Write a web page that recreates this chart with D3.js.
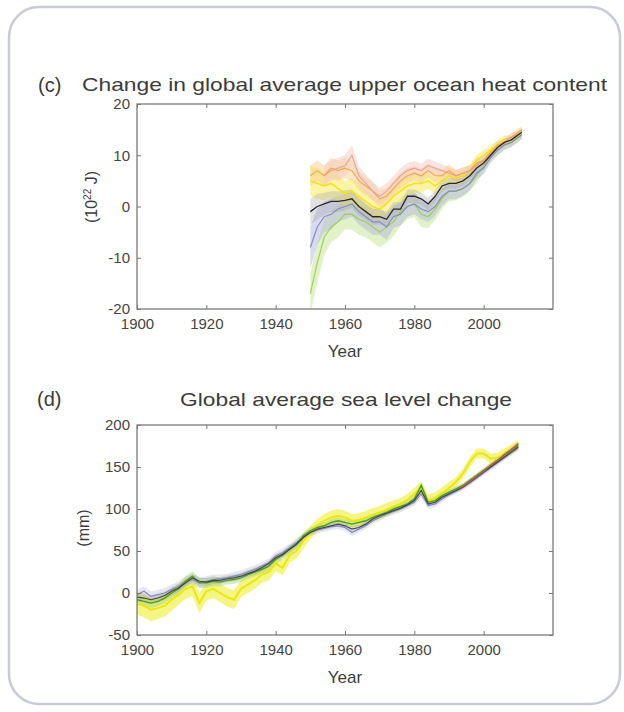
<!DOCTYPE html>
<html>
<head>
<meta charset="utf-8">
<script src="https://cdn.jsdelivr.net/npm/d3@7"></script>
<style>
body { margin: 0; background: #fff; }
text { font-family: "Liberation Sans", Arial, sans-serif; fill: #3c3c3c; }
</style>
</head>
<body>
<div id="cntr"></div>
<script>
// (c) upper ocean heat content, 10^22 J
const cYears = [1950,1952,1954,1956,1958,1960,1962,1964,1966,1968,1970,1972,1974,1976,1978,1980,1982,1984,1986,1988,1990,1992,1994,1996,1998,2000,2002,2004,2006,2008,2010,2011];
const cBlack = [-1,0,0.5,1,1,1.2,1.5,0,-1,-2,-2,-2.5,-0.5,-0.5,2,2,1.5,0.5,2,4,4.5,4.5,5,6,7.5,8.5,10,11.5,12.5,13,14,14.5];
const cBlackErr = [2.5,2.5,2.2,2,2,2,1.8,1.8,1.6,1.6,1.5,1.5,1.4,1.4,1.3,1.3,1.2,1.2,1.1,1.1,1,1,1,0.9,0.9,0.8,0.8,0.7,0.7,0.7,0.7,0.7];
const cBlue = [-8,-4,-2,-1.5,-0.5,0,0.5,-1,-2,-3,-3,-4,-2,-1.5,0,0.5,-0.5,-1,0,2,3,3,3.5,4.5,6.5,7.5,9.5,11,12,12.5,13.5,14];
const cBlueErr = [4,3.5,3,3,2.5,2.5,2.5,2.5,2.5,2.5,2.5,2.5,2.2,2.2,2,2,2,2,1.8,1.8,1.6,1.6,1.4,1.4,1.2,1.2,1,1,0.9,0.9,0.8,0.8];
const cGreen = [-17,-11,-6,-4,-3,-1.5,-1.5,-2.5,-3,-4,-5,-4,-3,-1,0,0.5,-1.5,-2,-0.5,1.5,3,3,3.5,4.5,6,8,10,11,12,12.5,13.5,14];
const cGreenErr = [4,4,3.5,3,3,3,3,3,3,3,3,3,2.8,2.8,2.5,2.5,2.5,2.2,2.2,2,2,1.8,1.6,1.5,1.4,1.2,1.1,1,1,0.9,0.9,0.9];
const cYellow = [5,4.5,4,4.5,3.5,2.5,3,2,1,0,-0.5,0.5,2,3,4,4.5,4.5,5,4,5,6,5.5,6,7,9,10,11,12,13,13,14,14.5];
const cYellowErr = [3,3,2.8,2.8,2.5,2.5,2.5,2.5,2.2,2.2,2,2,2,2,1.8,1.8,1.8,1.6,1.6,1.5,1.5,1.4,1.3,1.2,1.1,1,1,0.9,0.9,0.8,0.8,0.8];
const cOrange = [6,7,6,7.5,7,7.5,7,5,4,3,1.5,2,3.5,5,6,6.5,6,7,6,6,7,6,6.5,7,8.5,9,10.5,12,12.5,13.5,14.5,15];
const cOrangeErr = [2,2,2,2,2,2,2,1.8,1.8,1.8,1.6,1.6,1.5,1.5,1.5,1.4,1.4,1.3,1.3,1.2,1.2,1.1,1.1,1,1,0.9,0.9,0.8,0.8,0.8,0.7,0.7];
const cSalmon = [null,null,6,7,7.5,8,10,6,4.5,3,2,3,4.5,6,7,7.5,7,8,7.5,7,6.5,6,6.5,7,8,9,10,11.5,12.5,13.5,14,14.5];
const cSalmonErr = [null,null,2,2,2,2,2,1.8,1.8,1.8,1.6,1.6,1.5,1.5,1.5,1.4,1.4,1.3,1.3,1.2,1.2,1.1,1.1,1,1,0.9,0.9,0.8,0.8,0.8,0.7,0.7];

// (d) sea level, mm
const dYears = d3.range(1900, 2011, 2);
const dYellow = [-12,-15,-20,-18,-15,-8,-2,5,8,-12,2,5,0,-5,-8,5,10,15,22,25,35,30,45,50,62,72,80,86,90,92,90,86,87,90,93,96,99,103,106,111,118,126,110,113,119,125,132,142,156,166,166,160,161,166,171,176];
const dYellowErr = [14,14,14,13,13,13,12,12,12,12,11,11,11,11,11,10,10,10,10,10,9,9,9,9,9,8,8,8,8,8,8,8,8,8,8,8,8,7,7,7,7,7,7,7,7,7,6,6,6,6,6,6,6,6,6,6];
const dGreen = [-8,-10,-12,-10,-6,0,5,14,20,12,12,14,13,15,16,18,22,25,28,32,40,45,52,58,68,74,78,80,84,86,84,82,84,86,90,93,96,100,103,106,112,128,108,110,116,120,124,128,134,140,146,152,158,164,170,176];
const dGreenErr = [6,6,6,6,6,6,6,6,6,6,6,6,5,5,5,5,5,5,5,5,5,5,5,5,4,4,4,4,4,4,4,4,4,4,4,4,4,4,4,4,4,4,4,4,4,3,3,3,3,3,3,3,3,3,3,3];
const dBlack = [-5,-6,-8,-6,-3,2,6,12,18,14,13,15,15,17,18,20,23,26,30,35,42,46,52,58,66,72,76,78,80,82,80,76,78,82,88,92,95,98,101,105,110,122,106,108,114,118,122,126,132,138,144,150,156,162,168,174];
const dBlackErr = [5,5,5,5,5,5,5,5,5,5,5,4,4,4,4,4,4,4,4,4,4,4,4,4,4,3,3,3,3,3,3,3,3,3,3,3,3,3,3,3,3,3,3,3,3,3,3,3,3,3,3,3,3,3,3,3];
const dBlue = [-2,2,-4,-2,0,4,8,14,16,12,14,16,17,18,20,22,25,28,32,36,44,48,54,60,67,72,75,77,79,80,78,72,76,80,86,90,94,97,100,104,108,118,104,106,112,117,121,126,131,137,143,149,155,161,167,173];
const dBlueErr = dGreenErr;
const dSatYears = [1993,1994,1996,1998,2000,2002,2004,2006,2008,2010];
const dSat = [125,127,133,139,145,152,158,165,171,178];
const dSatErr = [3,3,3,3,3,3,3,3,3,3];

const xTicks = [1900,1920,1940,1960,1980,2000];
const cTicks = [-20,-10,0,10,20];
const dTicks = [-50,0,50,100,150,200];

const svg = d3.select("#cntr")
    .append("svg")
    .attr("width", 624)
    .attr("height", 712);

svg.append("rect")
    .attr("x", 9).attr("y", 7)
    .attr("width", 611).attr("height", 697)
    .attr("rx", 30)
    .style("fill", "#fff")
    .style("stroke", "#c8cad8")
    .style("stroke-width", 2.5);

function panel(p) {
    const x = d3.scaleLinear().domain([1900, 2020]).range([137, 553]);
    const y = d3.scaleLinear().domain(p.domain).range([p.bottom, p.top]);

    svg.append("clipPath").attr("id", p.id)
        .append("rect")
        .attr("x", 137).attr("y", p.top)
        .attr("width", 416).attr("height", p.bottom - p.top);

    const plot = svg.append("g").attr("clip-path", "url(#" + p.id + ")");

    // uncertainty bands first, lines on top
    p.series.forEach(s => {
        const idx = d3.range(s.years.length);
        const area = d3.area()
            .defined(i => s.values[i] != null)
            .x(i => x(s.years[i]))
            .y0(i => y(s.values[i] - s.err[i]))
            .y1(i => y(s.values[i] + s.err[i]));
        plot.append("path")
            .attr("d", area(idx))
            .style("fill", s.band)
            .style("opacity", s.bandOpacity);
    });
    p.series.forEach(s => {
        const idx = d3.range(s.years.length);
        const line = d3.line()
            .defined(i => s.values[i] != null)
            .x(i => x(s.years[i]))
            .y(i => y(s.values[i]));
        plot.append("path")
            .attr("d", line(idx))
            .style("fill", "none")
            .style("stroke", s.color)
            .style("stroke-width", s.width)
            .style("opacity", s.opacity);
    });

    const tick = g => {
        g.select(".domain").remove();
        g.selectAll("line").style("stroke", "#777");
        g.selectAll("text").style("font-size", "15px").style("fill", "#444");
    };

    svg.append("g")
        .attr("transform", "translate(0," + p.bottom + ")")
        .call(d3.axisBottom(x).tickValues(xTicks).tickFormat(d => d).tickSizeInner(-4).tickSizeOuter(0).tickPadding(9))
        .call(tick);
    svg.append("g")
        .attr("transform", "translate(0," + p.top + ")")
        .call(d3.axisTop(x).tickValues(xTicks).tickFormat("").tickSizeInner(-4).tickSizeOuter(0))
        .call(tick);
    svg.append("g")
        .attr("transform", "translate(137,0)")
        .call(d3.axisLeft(y).tickValues(p.ticks).tickFormat(d => String(d)).tickSizeInner(-4).tickSizeOuter(0).tickPadding(7))
        .call(tick);
    svg.append("g")
        .attr("transform", "translate(553,0)")
        .call(d3.axisRight(y).tickValues(p.ticks).tickFormat("").tickSizeInner(-4).tickSizeOuter(0))
        .call(tick);

    svg.append("rect")
        .attr("x", 137).attr("y", p.top)
        .attr("width", 416).attr("height", p.bottom - p.top)
        .style("fill", "none")
        .style("stroke", "#7a7a7a")
        .style("stroke-width", 1.3);

    svg.append("text")
        .attr("x", 345).attr("y", p.bottom + 48)
        .style("text-anchor", "middle")
        .style("font-size", "17px")
        .text("Year");
}

panel({
    id: "clipC", top: 104, bottom: 309, domain: [-20, 20], ticks: cTicks,
    series: [
        {years: cYears, values: cGreen, err: cGreenErr, color: "#9ccc4a", band: "#c9e89a", bandOpacity: 0.55, width: 1.2, opacity: 0.9},
        {years: cYears, values: cBlue, err: cBlueErr, color: "#8085c4", band: "#b4b6dd", bandOpacity: 0.5, width: 1.2, opacity: 0.9},
        {years: cYears, values: cYellow, err: cYellowErr, color: "#f2e318", band: "#f7ef6a", bandOpacity: 0.6, width: 1.5, opacity: 1},
        {years: cYears, values: cOrange, err: cOrangeErr, color: "#f1a43c", band: "#f8cd90", bandOpacity: 0.5, width: 1.2, opacity: 0.9},
        {years: cYears, values: cSalmon, err: cSalmonErr, color: "#e9a08c", band: "#f3ccbf", bandOpacity: 0.5, width: 1.2, opacity: 0.9},
        {years: cYears, values: cBlack, err: cBlackErr, color: "#2a2a2a", band: "#9a9a9a", bandOpacity: 0.3, width: 1.3, opacity: 1}
    ]
});

panel({
    id: "clipD", top: 425, bottom: 635, domain: [-50, 200], ticks: dTicks,
    series: [
        {years: dYears, values: dYellow, err: dYellowErr, color: "#e8e810", band: "#f0f040", bandOpacity: 0.65, width: 2, opacity: 1},
        {years: dYears, values: dBlue, err: dBlueErr, color: "#7c80c2", band: "#b9bbe0", bandOpacity: 0.35, width: 1.2, opacity: 0.9},
        {years: dYears, values: dGreen, err: dGreenErr, color: "#4f9a2a", band: "#a6d46e", bandOpacity: 0.45, width: 1.4, opacity: 1},
        {years: dYears, values: dBlack, err: dBlackErr, color: "#3a3a3a", band: "#9a9a9a", bandOpacity: 0.25, width: 1.2, opacity: 0.9},
        {years: dSatYears, values: dSat, err: dSatErr, color: "#b5603c", band: "#e0a890", bandOpacity: 0.4, width: 1.4, opacity: 1}
    ]
});

// titles and axis labels
svg.append("text").attr("x", 38).attr("y", 92).style("font-size", "20px").text("(c)");
svg.append("text").attr("x", 82).attr("y", 91)
    .attr("textLength", 525).attr("lengthAdjust", "spacingAndGlyphs")
    .style("font-size", "19px")
    .text("Change in global average upper ocean heat content");

svg.append("text").attr("x", 37).attr("y", 406).style("font-size", "20px").text("(d)");
svg.append("text").attr("x", 180).attr("y", 406)
    .attr("textLength", 332).attr("lengthAdjust", "spacingAndGlyphs")
    .style("font-size", "19px")
    .text("Global average sea level change");

const cLabel = svg.append("text")
    .attr("transform", "translate(97,197) rotate(-90)")
    .style("text-anchor", "middle")
    .style("font-size", "16px");
cLabel.append("tspan").text("(10");
cLabel.append("tspan").attr("dy", -6).style("font-size", "10px").text("22");
cLabel.append("tspan").attr("dy", 6).text(" J)");

svg.append("text")
    .attr("transform", "translate(89,528) rotate(-90)")
    .style("text-anchor", "middle")
    .style("font-size", "16px")
    .text("(mm)");
</script>
</body>
</html>
